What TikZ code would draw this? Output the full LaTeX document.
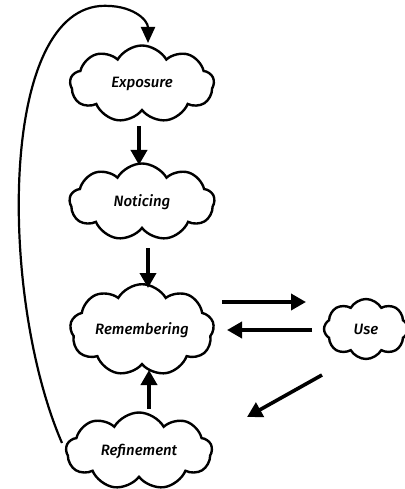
\documentclass[tikz,border=0pt]{standalone}
\usepackage{fontspec}
\setmainfont{Fira Sans}[BoldItalicFont={* Medium Italic}]
\usetikzlibrary{shapes.symbols,arrows.meta}
\begin{document}
\begin{tikzpicture}[x=1pt,y=-1pt,
  cl/.style={cloud, cloud puffs=9, cloud puff arc=120, draw, line width=2.4pt, inner sep=0pt, aspect=1.9,
    font=\fontsize{15}{17}\selectfont\bfseries\itshape},
  arr/.style={line width=3.6pt, -{Triangle[length=15pt,width=16pt]}},
  loop/.style={line width=2.2pt, -{Triangle[length=16pt,width=14pt]}}]
\useasboundingbox (0,0) rectangle (404,489);
\node[cl, minimum width=144pt, minimum height=77pt] (exp) at (142,84) {Exposure};
\node[cl, minimum width=145pt, minimum height=77pt] (not) at (142,202) {Noticing};
\node[cl, minimum width=144pt, minimum height=78pt] (rem) at (142,330) {Remembering};
\node[cl, minimum width=84pt, minimum height=60pt, aspect=1.4, cloud puffs=8] (use) at (366,329) {Use};
\node[cl, minimum width=146pt, minimum height=77pt] (ref) at (139,451) {Refinement};
\coordinate (a1) at (139,126); \coordinate (b1) at (139,165);
\coordinate (a2) at (148,248); \coordinate (b2) at (148,288);
\coordinate (a3) at (222,302); \coordinate (b3) at (306,302);
\coordinate (a4) at (312,330); \coordinate (b4) at (227,330);
\coordinate (a5) at (322,375); \coordinate (b5) at (247,417);
\coordinate (a6) at (149,409); \coordinate (b6) at (149,370);
\coordinate (ls) at (62,443); \coordinate (lt) at (148,43);
\draw[arr] (a1) -- (b1);
\draw[arr] (a2) -- (b2);
\draw[arr] (a3) -- (b3);
\draw[arr] (a4) -- (b4);
\draw[arr] (a5) -- (b5);
\draw[arr] (a6) -- (b6);
\draw[loop] (ls) .. controls (0,300) and (-2,15) .. (100,6) .. controls (132,4) and (148,20) .. (lt);
\end{tikzpicture}
\end{document}
